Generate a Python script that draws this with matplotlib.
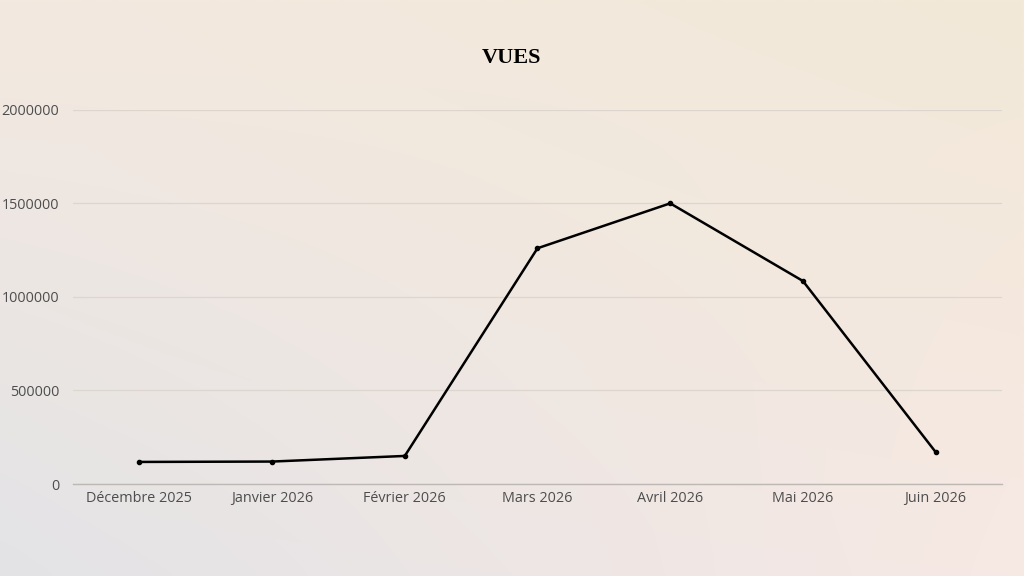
import numpy as np
import matplotlib.pyplot as plt

months = ["Décembre 2025", "Janvier 2026", "Février 2026", "Mars 2026",
          "Avril 2026", "Mai 2026", "Juin 2026"]
vues = [118000, 120000, 150000, 1260000, 1500000, 1085000, 171000]
yticks = [0, 500000, 1000000, 1500000, 2000000]

plt.rcParams["font.family"] = ["Open Sans", "DejaVu Sans"]

fig = plt.figure(figsize=(10.24, 5.76), dpi=100)

# background gradient (corner colours blended)
bg = fig.add_axes([0, 0, 1, 1], zorder=-10)
tl = np.array([0xf4, 0xe9, 0xe0]) / 255
tr = np.array([0xf2, 0xe9, 0xd8]) / 255
bl = np.array([0xe3, 0xe3, 0xe6]) / 255
br = np.array([0xf7, 0xe9, 0xe4]) / 255
u = np.linspace(0, 1, 200)[None, :, None]
v = np.linspace(0, 1, 120)[:, None, None]
img = (1 - v) * ((1 - u) * tl + u * tr) + v * ((1 - u) * bl + u * br)
bg.imshow(img, aspect="auto", interpolation="bilinear")
bg.axis("off")

ax = fig.add_axes([0.0713, 0.1597, 0.9072, 0.6497])
ax.patch.set_alpha(0)
x = np.arange(len(months))
ax.plot(x, vues, color="black", lw=1.8, marker="o", markersize=3, zorder=3)

ax.set_xlim(-0.5, len(months) - 0.5)
ax.set_ylim(0, 2000000)
ax.set_yticks(yticks)
ax.set_yticklabels([str(t) for t in yticks])
ax.set_xticks(x)
ax.set_xticklabels(months)
ax.tick_params(axis="both", length=0, labelsize=10.4, colors="#4d4d4d")
ax.tick_params(axis="y", pad=10)
ax.tick_params(axis="x", pad=5)
ax.grid(axis="y", color="#ddd6cf", lw=0.9)
ax.set_axisbelow(True)
for s in ["top", "right", "left"]:
    ax.spines[s].set_visible(False)
ax.spines["bottom"].set_color("#bdb8b4")
ax.spines["bottom"].set_linewidth(1)

fig.text(0.5, 0.899, "VUES", ha="center", va="center", fontsize=16,
         fontweight="heavy", family=["Liberation Serif", "DejaVu Serif"])

plt.savefig("out.png", dpi=100)
